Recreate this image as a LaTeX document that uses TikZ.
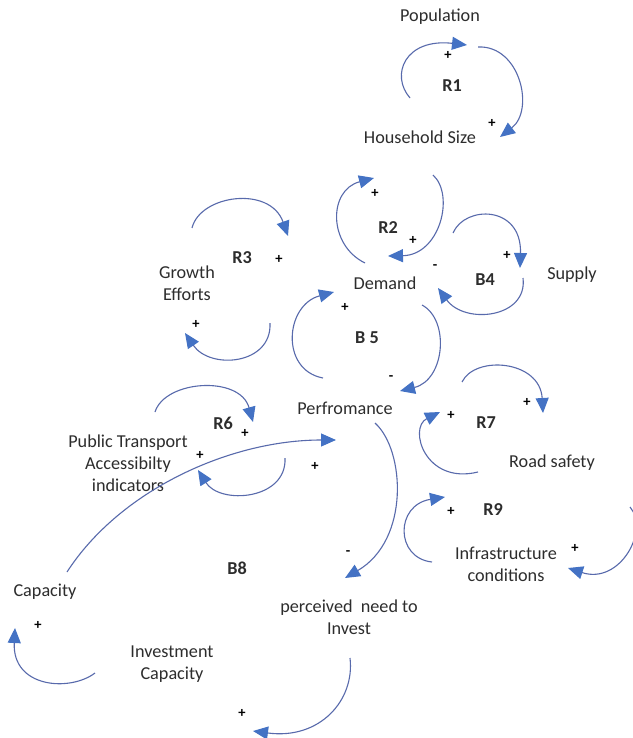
\documentclass[tikz,border=0pt]{standalone}
\usepackage{fontspec}
\setmainfont{Carlito}
\usetikzlibrary{arrows.meta}
\definecolor{lineblue}{RGB}{88,106,172}
\definecolor{headblue}{RGB}{68,114,196}
\definecolor{txt}{RGB}{45,45,45}
\begin{document}
\begin{tikzpicture}[x=1pt,y=-1pt,
 lbl/.style={font=\fontsize{18.2}{22}\selectfont, text=txt, inner sep=0pt, align=center},
 loopname/.style={font=\fontsize{18.2}{22}\selectfont\bfseries, text=txt, inner sep=0pt},
 sgn/.style={font=\fontsize{14.5}{14.5}\selectfont\bfseries, text=black, inner sep=0pt},
 cl/.style={draw=lineblue, line width=1.1pt, -{Triangle[length=15pt,width=13pt,color=headblue]}}]
\useasboundingbox[fill=white] (0,0) rectangle (632,738);

% variables
\node[lbl] (pop) at (440,17) {Population};
\node[lbl] (hh) at (420,137) {Household Size};
\node[lbl] (dem) at (385,283) {Demand};
\node[lbl] (sup) at (572,275) {Supply};
\node[lbl] (gro) at (187,283) {Growth\\Efforts};
\node[lbl] (perf) at (345,408) {Perfromance};
\node[lbl] (pta) at (128,463) {Public Transport\\Accessibilty\\indicators};
\node[lbl] (road) at (552,463) {Road safety};
\node[lbl] (infra) at (506,564) {Infrastructure\\conditions};
\node[lbl] (cap) at (45,592) {Capacity};
\node[lbl] (need) at (349,617) {perceived\ \ need to\\Invest};
\node[lbl] (inv) at (172,664) {Investment\\Capacity};

% loop names
\node[loopname] (r1) at (452,86) {R1};
\node[loopname] (r2) at (388,228) {R2};
\node[loopname] (r3) at (242,258) {R3};
\node[loopname] (b4) at (485,280) {B4};
\node[loopname] (b5) at (367,338) {B 5};
\node[loopname] (r6) at (223,423) {R6};
\node[loopname] (r7) at (486,423) {R7};
\node[loopname] (b8) at (237,568) {B8};
\node[loopname] (r9) at (493,510) {R9};

% signs
\node[sgn] (p1) at (448,55) {+};
\node[sgn] (p2) at (492,123) {+};
\node[sgn] (p3) at (375,193) {+};
\node[sgn] (p4) at (413,240) {+};
\node[sgn] (p5) at (507,255) {+};
\node[sgn] (p6) at (279,259) {+};
\node[sgn] (p7) at (196,324) {+};
\node[sgn] (p8) at (345,307) {+};
\node[sgn] (p9) at (245,433) {+};
\node[sgn] (p10) at (200,455) {+};
\node[sgn] (p11) at (315,466) {+};
\node[sgn] (p12) at (527,402) {+};
\node[sgn] (p13) at (451,415) {+};
\node[sgn] (p14) at (451,511) {+};
\node[sgn] (p15) at (575,548) {+};
\node[sgn] (p16) at (38,625) {+};
\node[sgn] (p17) at (242,713) {+};
\node[sgn] (m1) at (435,267) {-};
\node[sgn] (m2) at (391,378) {-};
\node[sgn] (m3) at (348,553) {-};

% arc end points
\coordinate (a1s) at (410,98);   \coordinate (a1e) at (467,45);
\coordinate (a2s) at (478,47);   \coordinate (a2e) at (500,137);
\coordinate (a3s) at (365,263);  \coordinate (a3e) at (374,178);
\coordinate (a4s) at (433,175);  \coordinate (a4e) at (388,256);
\coordinate (a5s) at (453,233);  \coordinate (a5e) at (520,268);
\coordinate (a6s) at (523,278);  \coordinate (a6e) at (438,288);
\coordinate (a7s) at (192,228);  \coordinate (a7e) at (288,236);
\coordinate (a8s) at (270,323);  \coordinate (a8e) at (185,333);
\coordinate (a9s) at (323,378);  \coordinate (a9e) at (334,292);
\coordinate (a10s) at (422,305); \coordinate (a10e) at (400,391);
\coordinate (a11s) at (155,412); \coordinate (a11e) at (253,422);
\coordinate (a12s) at (285,458); \coordinate (a12e) at (198,470);
\coordinate (a13s) at (67,572);  \coordinate (a13e) at (336,440);
\coordinate (a14s) at (375,423); \coordinate (a14e) at (345,578);
\coordinate (a15s) at (350,658); \coordinate (a15e) at (253,731);
\coordinate (a16s) at (95,673);  \coordinate (a16e) at (15,628);
\coordinate (a17s) at (462,382); \coordinate (a17e) at (543,413);
\coordinate (a18s) at (478,472); \coordinate (a18e) at (440,412);
\coordinate (a19s) at (432,562); \coordinate (a19e) at (445,497);
\coordinate (a20s) at (630,507); \coordinate (a20e) at (568,568);

% connectors
\draw[cl] (a1s) .. controls (390,75) and (405,38) .. (a1e);
\draw[cl] (a2s) .. controls (520,45) and (535,110) .. (a2e);
\draw[cl] (a3s) .. controls (328,245) and (328,190) .. (a3e);
\draw[cl] (a4s) .. controls (455,195) and (440,255) .. (a4e);
\draw[cl] (a5s) .. controls (465,205) and (522,205) .. (a5e);
\draw[cl] (a6s) .. controls (528,318) and (465,325) .. (a6e);
\draw[cl] (a7s) .. controls (200,195) and (270,185) .. (a7e);
\draw[cl] (a8s) .. controls (272,365) and (210,370) .. (a8e);
\draw[cl] (a9s) .. controls (280,370) and (285,305) .. (a9e);
\draw[cl] (a10s) .. controls (450,320) and (445,380) .. (a10e);
\draw[cl] (a11s) .. controls (165,380) and (240,375) .. (a11e);
\draw[cl] (a12s) .. controls (287,500) and (220,505) .. (a12e);
\draw[cl] (a13s) .. controls (120,490) and (230,440) .. (a13e);
\draw[cl] (a14s) .. controls (405,450) and (410,540) .. (a14e);
\draw[cl] (a15s) .. controls (355,700) and (320,740) .. (a15e);
\draw[cl] (a16s) .. controls (70,692) and (12,688) .. (a16e);
\draw[cl] (a17s) .. controls (475,355) and (540,360) .. (a17e);
\draw[cl] (a18s) .. controls (425,485) and (408,428) .. (a18e);
\draw[cl] (a19s) .. controls (395,558) and (395,505) .. (a19e);
\draw[cl] (a20s) .. controls (650,530) and (620,585) .. (a20e);
\end{tikzpicture}
\end{document}
